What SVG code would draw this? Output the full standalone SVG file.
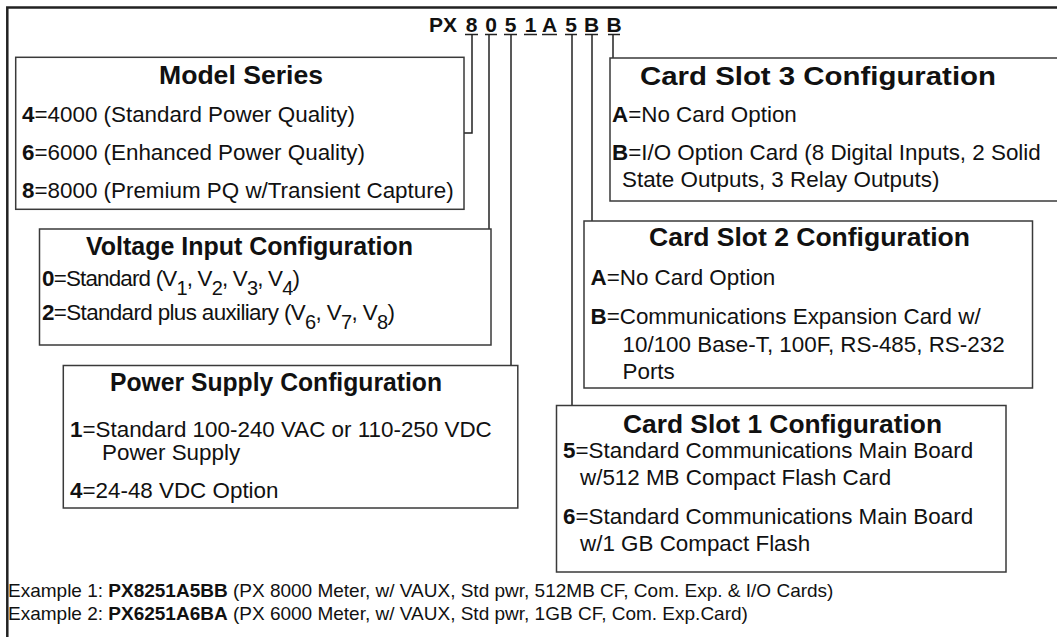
<svg xmlns="http://www.w3.org/2000/svg" width="1057" height="637" viewBox="0 0 1057 637">
<style>
.box{fill:#fff;stroke:#3a3a3a;stroke-width:1.5}
.conn{fill:none;stroke:#222;stroke-width:1.5}
.ul{stroke:#222;stroke-width:1.5}
.frame{fill:none;stroke:#222;stroke-width:2.5}
text{font-family:"Liberation Sans",Arial,sans-serif;fill:#111}
.t{font-size:22.4px}
.h{font-size:25px;font-weight:bold}
.b{font-weight:bold}
.sub{font-size:20px}
.ex{font-size:19px}
.code{font-size:21px;font-weight:bold}
</style>
<rect width="1057" height="637" fill="#fff"/>
<g id="frame">
<path class="frame" d="M7.3,637 V7.5 H1057"/>
</g>
<g id="px-code">
<text class="code" x="429" y="32">PX</text>
<g text-anchor="middle">
<text class="code" x="471.5" y="32">8</text>
<text class="code" x="491" y="32">0</text>
<text class="code" x="510.5" y="32">5</text>
<text class="code" x="530.5" y="32">1</text>
<text class="code" x="549.5" y="32">A</text>
<text class="code" x="571" y="32">5</text>
<text class="code" x="591.5" y="32">B</text>
<text class="code" x="614" y="32">B</text>
</g>
<path class="ul" d="M465,34.5H478M485,34.5H497M504,34.5H517M524,34.5H537M542,34.5H557M565,34.5H577M585,34.5H598M608,34.5H620"/>
</g>
<g id="connectors">
<path class="conn" d="M472,34.5 V133 H464"/>
<path class="conn" d="M489,34.5 V229"/>
<path class="conn" d="M511,34.5 V365.5"/>
<path class="conn" d="M572,34.5 V405.5"/>
<path class="conn" d="M592,34.5 V221"/>
<path class="conn" d="M613,34.5 V58"/>
</g>
<g id="model-series">
<rect class="box" x="15.7" y="57.3" width="448.3" height="152"/>
<text class="h" x="159" y="84" textLength="164" lengthAdjust="spacingAndGlyphs">Model Series</text>
<text class="t" x="22" y="122"><tspan class="b">4</tspan>=4000 (Standard Power Quality)</text>
<text class="t" x="22" y="160"><tspan class="b">6</tspan>=6000 (Enhanced Power Quality)</text>
<text class="t" x="22" y="198"><tspan class="b">8</tspan>=8000 (Premium PQ w/Transient Capture)</text>
</g>
<g id="voltage-input">
<rect class="box" x="39.5" y="229" width="451.5" height="116"/>
<text class="h" x="86" y="255" textLength="327" lengthAdjust="spacingAndGlyphs">Voltage Input Configuration</text>
<text class="t" x="42" y="286" textLength="258"><tspan class="b">0</tspan>=Standard (V<tspan class="sub" dy="9">1</tspan><tspan dy="-9">, V</tspan><tspan class="sub" dy="9">2</tspan><tspan dy="-9">, V</tspan><tspan class="sub" dy="9">3</tspan><tspan dy="-9">, V</tspan><tspan class="sub" dy="9">4</tspan><tspan dy="-9">)</tspan></text>
<text class="t" x="42" y="320" textLength="353"><tspan class="b">2</tspan>=Standard plus auxiliary (V<tspan class="sub" dy="9">6</tspan><tspan dy="-9">, V</tspan><tspan class="sub" dy="9">7</tspan><tspan dy="-9">, V</tspan><tspan class="sub" dy="9">8</tspan><tspan dy="-9">)</tspan></text>
</g>
<g id="power-supply">
<rect class="box" x="63.3" y="365.5" width="454.5" height="142.5"/>
<text class="h" x="110" y="391" textLength="332" lengthAdjust="spacingAndGlyphs">Power Supply Configuration</text>
<text class="t" x="70" y="437"><tspan class="b">1</tspan>=Standard 100-240 VAC or 110-250 VDC</text>
<text class="t" x="102" y="460">Power Supply</text>
<text class="t" x="70" y="498"><tspan class="b">4</tspan>=24-48 VDC Option</text>
</g>
<g id="card-slot-3">
<rect class="box" x="610" y="58" width="460" height="143"/>
<text class="h" x="640" y="85" textLength="356" lengthAdjust="spacingAndGlyphs">Card Slot 3 Configuration</text>
<text class="t" x="612" y="122"><tspan class="b">A</tspan>=No Card Option</text>
<text class="t" x="612" y="160"><tspan class="b">B</tspan>=I/O Option Card (8 Digital Inputs, 2 Solid</text>
<text class="t" x="622" y="187">State Outputs, 3 Relay Outputs)</text>
</g>
<g id="card-slot-2">
<rect class="box" x="584" y="221" width="448.5" height="167"/>
<text class="h" x="649" y="246" textLength="321" lengthAdjust="spacingAndGlyphs">Card Slot 2 Configuration</text>
<text class="t" x="590.5" y="285"><tspan class="b">A</tspan>=No Card Option</text>
<text class="t" x="590.5" y="324"><tspan class="b">B</tspan>=Communications Expansion Card w/</text>
<text class="t" x="622.5" y="352">10/100 Base-T, 100F, RS-485, RS-232</text>
<text class="t" x="622.5" y="379">Ports</text>
</g>
<g id="card-slot-1">
<rect class="box" x="556.5" y="405.5" width="449.5" height="166.5"/>
<text class="h" x="623" y="433" textLength="319" lengthAdjust="spacingAndGlyphs">Card Slot 1 Configuration</text>
<text class="t" x="563" y="458"><tspan class="b">5</tspan>=Standard Communications Main Board</text>
<text class="t" x="580" y="485">w/512 MB Compact Flash Card</text>
<text class="t" x="563" y="524"><tspan class="b">6</tspan>=Standard Communications Main Board</text>
<text class="t" x="580" y="551">w/1 GB Compact Flash</text>
</g>
<g id="examples">
<text class="ex" x="8" y="597">Example 1: <tspan class="b">PX8251A5BB</tspan> (PX 8000 Meter, w/ VAUX, Std pwr, 512MB CF, Com. Exp. &amp; I/O Cards)</text>
<text class="ex" x="8" y="620">Example 2: <tspan class="b">PX6251A6BA</tspan> (PX 6000 Meter, w/ VAUX, Std pwr, 1GB CF, Com. Exp.Card)</text>
</g>
</svg>
